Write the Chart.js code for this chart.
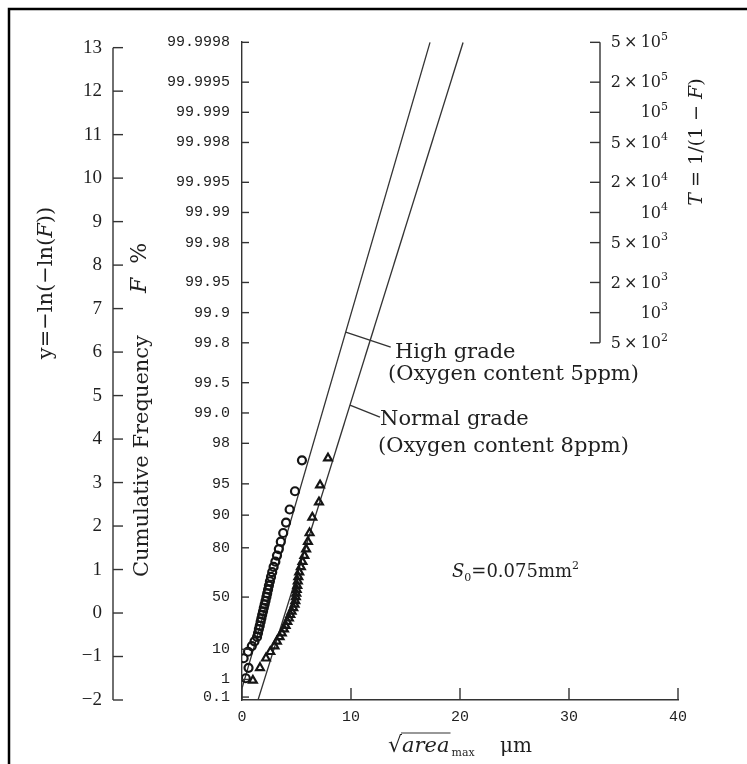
<!DOCTYPE html>
<html><head><meta charset="utf-8">
<script src="https://cdn.jsdelivr.net/npm/chart.js@4"></script>
<style>html,body{margin:0;padding:0;background:#fff;}canvas{display:block;}</style>
</head><body>
<canvas id="c" width="747" height="764"></canvas>
<script>
// ---- data (x = sqrt(area_max) in um, y = reduced variate -ln(-ln F)) ----
const highX = [0.35, 0.60, 0.15, 0.55, 0.90, 1.15, 1.38, 1.47, 1.55, 1.63, 1.71, 1.78, 1.85, 1.93, 2.00, 2.08, 2.16, 2.24, 2.31, 2.39, 2.47, 2.56, 2.66, 2.77, 2.90, 3.06, 3.21, 3.38, 3.56, 3.78, 4.04, 4.37, 4.86, 5.50];
const highY = [-1.50, -1.26, -1.04, -0.89, -0.76, -0.65, -0.55, -0.46, -0.37, -0.29, -0.20, -0.12, -0.04, 0.04, 0.12, 0.20, 0.28, 0.37, 0.45, 0.54, 0.63, 0.73, 0.83, 0.94, 1.06, 1.18, 1.32, 1.47, 1.64, 1.84, 2.08, 2.38, 2.80, 3.51];
const normalX = [1.00, 1.65, 2.20, 2.60, 2.98, 3.20, 3.45, 3.65, 3.85, 4.00, 4.16, 4.30, 4.43, 4.55, 4.70, 4.82, 4.89, 4.94, 4.98, 5.02, 5.07, 5.12, 5.17, 5.25, 5.40, 5.55, 5.72, 5.88, 6.05, 6.20, 6.45, 7.06, 7.16, 7.89];
const normalY = [-1.55, -1.26, -1.04, -0.89, -0.76, -0.65, -0.55, -0.46, -0.37, -0.29, -0.20, -0.12, -0.04, 0.04, 0.12, 0.20, 0.28, 0.37, 0.45, 0.54, 0.63, 0.73, 0.83, 0.94, 1.06, 1.18, 1.32, 1.47, 1.64, 1.84, 2.20, 2.55, 2.94, 3.56];
const highLineX = [0, 17.25];
const highLineY = [-1.73, 13.12];
const normalLineX = [1.47, 20.28];
const normalLineY = [-2, 13.12];
const xTicks = [0, 10, 20, 30, 40];
const yTicks = [-2, -1, 0, 1, 2, 3, 4, 5, 6, 7, 8, 9, 10, 11, 12, 13];
const yTickLabels = ['\u22122', '\u22121', '0', '1', '2', '3', '4', '5', '6', '7', '8', '9', '10', '11', '12', '13'];
const fTickValues = [0.1, 1, 10, 50, 80, 90, 95, 98, 99.0, 99.5, 99.8, 99.9, 99.95, 99.98, 99.99, 99.995, 99.998, 99.999, 99.9995, 99.9998];
const fTickLabels = ['0.1', '1', '10', '50', '80', '90', '95', '98', '99.0', '99.5', '99.8', '99.9', '99.95', '99.98', '99.99', '99.995', '99.998', '99.999', '99.9995', '99.9998'];
const tTickValues = [5e2, 1e3, 2e3, 5e3, 1e4, 2e4, 5e4, 1e5, 2e5, 5e5];
const tTickMant = ['5', '', '2', '5', '', '2', '5', '', '2', '5'];
const tTickExp = ['2', '3', '3', '3', '4', '4', '4', '5', '5', '5'];

// ---- axis transforms ----
const yr = p => -Math.log(-Math.log(p / 100));
const yT = t => yr(100 * (1 - 1 / t));
const INK = '#1f1f1f';
const LINE = '#333333';
const SERIF = '"DejaVu Serif", serif';

function seg(ctx, x1, y1, x2, y2) { ctx.beginPath(); ctx.moveTo(x1, y1); ctx.lineTo(x2, y2); ctx.stroke(); }
function runs(ctx, x, y, parts, align) {
  let w = 0;
  parts.forEach(p => { ctx.font = p[1]; w += ctx.measureText(p[0]).width; });
  let cx = align === 'right' ? x - w : align === 'center' ? x - w / 2 : x;
  parts.forEach(p => { ctx.font = p[1]; ctx.fillText(p[0], cx, y + (p[2] || 0)); cx += ctx.measureText(p[0]).width; });
  return w;
}

const decor = {
  id: 'decor',
  beforeDraw(chart) {
    const ctx = chart.ctx;
    ctx.save(); ctx.fillStyle = '#fff'; ctx.fillRect(0, 0, chart.width, chart.height); ctx.restore();
  },
  afterDraw(chart) {
    const { ctx } = chart;
    const x = chart.scales.x, y = chart.scales.y;
    ctx.save();
    // frame (top and left)
    ctx.strokeStyle = '#000'; ctx.lineWidth = 2.5;
    ctx.beginPath(); ctx.moveTo(9, 764); ctx.lineTo(9, 9); ctx.lineTo(747, 9); ctx.stroke();

    ctx.strokeStyle = LINE; ctx.lineWidth = 1.4;
    // left reduced-variate axis
    const lx = 113;
    seg(ctx, lx, y.getPixelForValue(13), lx, y.getPixelForValue(-2));
    yTicks.forEach(v => { const py = y.getPixelForValue(v); seg(ctx, lx, py, lx + 10, py); });
    // F axis inward ticks
    fTickValues.forEach(f => { const py = y.getPixelForValue(yr(f)); seg(ctx, x.left, py, x.left + 7, py); });
    // x axis upward ticks
    xTicks.forEach(v => { const px = x.getPixelForValue(v); seg(ctx, px, y.bottom, px, y.bottom - 12); });
    // T axis
    const tx = 600;
    seg(ctx, tx, y.getPixelForValue(yT(5e5)), tx, y.getPixelForValue(yT(5e2)));
    ctx.fillStyle = INK; ctx.textBaseline = 'middle';
    tTickValues.forEach((t, i) => {
      const py = y.getPixelForValue(yT(t));
      seg(ctx, tx - 10, py, tx, py);
      const parts = [];
      if (tTickMant[i]) parts.push([tTickMant[i] + '\u2009\u00d7\u2009', '16px ' + SERIF, 0]);
      parts.push(['10', '16px ' + SERIF, 0]);
      parts.push([tTickExp[i], '11px ' + SERIF, -6]);
      runs(ctx, 668, py + 1, parts, 'right');
    });

    // leader lines
    const onLine = (lx2, ly2, yv) => { const t = (yv - ly2[0]) / (ly2[1] - ly2[0]); return lx2[0] + t * (lx2[1] - lx2[0]); };
    const hy = 6.46, ny = 4.78;
    const hpx = x.getPixelForValue(onLine(highLineX, highLineY, hy)), hpy = y.getPixelForValue(hy);
    seg(ctx, hpx, hpy, hpx + 45, hpy + 15);
    const npx = x.getPixelForValue(onLine(normalLineX, normalLineY, ny)), npy = y.getPixelForValue(ny);
    seg(ctx, npx, npy, npx + 30, npy + 12);

    // annotation texts
    ctx.textBaseline = 'alphabetic'; ctx.textAlign = 'left'; ctx.fillStyle = INK;
    ctx.font = '21px ' + SERIF;
    ctx.fillText('High grade', 395, 358);
    ctx.fillText('(Oxygen content 5ppm)', 388, 380);
    ctx.fillText('Normal grade', 380, 425);
    ctx.fillText('(Oxygen content 8ppm)', 378, 452);

    // S0 label
    runs(ctx, 452, 577, [['S', 'italic 18px ' + SERIF, 0], ['0', '11px ' + SERIF, 4], ['=0.075mm', '18px ' + SERIF, 0], ['2', '11px ' + SERIF, -8]], 'left');

    // x title: sqrt(area_max) um
    ctx.font = '22px ' + SERIF;
    const sx = 388, sb = 752;
    ctx.fillText('\u221a', sx, sb);
    const ws = ctx.measureText('\u221a').width;
    ctx.font = 'italic 21px ' + SERIF;
    ctx.fillText('area', sx + ws, sb);
    const wa = ctx.measureText('area').width;
    ctx.lineWidth = 1.2;
    seg(ctx, sx + ws - 1, 733, sx + ws + wa + 1, 733);
    ctx.font = '11px ' + SERIF;
    ctx.fillText('max', sx + ws + wa + 2, sb + 4);
    ctx.font = '20px ' + SERIF;
    ctx.fillText('\u03bcm', 500, sb);

    // rotated titles
    const rot = (cx, cy, fn) => { ctx.save(); ctx.translate(cx, cy); ctx.rotate(-Math.PI / 2); fn(); ctx.restore(); };
    ctx.textBaseline = 'middle';
    rot(47, 283, () => runs(ctx, 0, 0, [['y=\u2212ln(\u2212ln(', '21px ' + SERIF, 0], ['F', 'italic 21px ' + SERIF, 0], ['))', '21px ' + SERIF, 0]], 'center'));
    rot(143, 456, () => runs(ctx, 0, 0, [['Cumulative Frequency', '21px ' + SERIF, 0]], 'center'));
    rot(140, 268, () => runs(ctx, 0, 0, [['F', 'italic 22px ' + SERIF, 0], ['  %', '22px ' + SERIF, 0]], 'center'));
    rot(697, 142, () => runs(ctx, 0, 0, [['T', 'italic 19px ' + SERIF, 0], [' = 1/(1 \u2212 ', '19px ' + SERIF, 0], ['F', 'italic 19px ' + SERIF, 0], [')', '19px ' + SERIF, 0]], 'center'));
    ctx.restore();
  }
};

const pts = (xs, ys) => xs.map((v, i) => ({ x: v, y: ys[i] }));

new Chart(document.getElementById('c'), {
  type: 'scatter',
  data: {
    datasets: [
      { label: 'High grade (Oxygen content 5ppm)', data: pts(highX, highY), pointStyle: 'circle', pointRadius: 4, borderColor: '#151515', backgroundColor: 'rgba(255,255,255,0)', borderWidth: 2.2 },
      { label: 'Normal grade (Oxygen content 8ppm)', data: pts(normalX, normalY), pointStyle: 'triangle', pointRadius: 4.5, borderColor: '#151515', backgroundColor: 'rgba(255,255,255,0)', borderWidth: 2.2 },
      { label: 'High grade fit', type: 'line', data: pts(highLineX, highLineY), borderColor: LINE, borderWidth: 1.3, pointRadius: 0, fill: false },
      { label: 'Normal grade fit', type: 'line', data: pts(normalLineX, normalLineY), borderColor: LINE, borderWidth: 1.3, pointRadius: 0, fill: false }
    ]
  },
  options: {
    responsive: false, animation: false, devicePixelRatio: 1,
    layout: { padding: { top: 42, right: 69, bottom: 0, left: 0 } },
    plugins: { legend: { display: false }, tooltip: { enabled: false } },
    scales: {
      x: {
        type: 'linear', position: 'bottom', min: 0, max: 40,
        afterBuildTicks: s => { s.ticks = xTicks.map(v => ({ value: v })); },
        afterFit: s => { s.height = 64; },
        grid: { display: false }, border: { display: true, color: LINE, width: 1.4 },
        ticks: { font: { family: 'Liberation Mono', size: 15 }, color: INK, padding: 0, maxRotation: 0, autoSkip: false }
      },
      y: {
        type: 'linear', position: 'left', weight: 0, min: -2, max: 13.13,
        afterBuildTicks: s => { s.ticks = fTickValues.map(v => ({ value: yr(v) })); },
        afterFit: s => { s.width = 129; },
        grid: { display: false }, border: { display: true, color: LINE, width: 1.4 },
        ticks: { callback: (v, i) => fTickLabels[i], font: { family: 'Liberation Mono', size: 15 }, color: INK, padding: 4, autoSkip: false }
      },
      yL: {
        type: 'linear', position: 'left', weight: 1, min: -2, max: 13.13,
        afterBuildTicks: s => { s.ticks = yTicks.map(v => ({ value: v })); },
        afterFit: s => { s.width = 113; },
        grid: { display: false }, border: { display: false },
        ticks: { callback: (v, i) => yTickLabels[i], font: { family: 'Liberation Serif', size: 19 }, color: INK, padding: 3, autoSkip: false }
      }
    }
  },
  plugins: [decor]
});
</script>
</body></html>
